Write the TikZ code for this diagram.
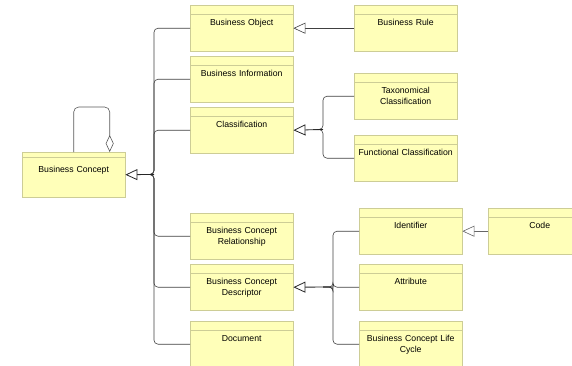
\documentclass[tikz,border=0pt]{standalone}
\usepackage{fontspec}
\setmainfont{Liberation Sans}
\usetikzlibrary{arrows.meta}

\definecolor{umlfill}{RGB}{255,255,185}
\definecolor{umlline}{RGB}{205,205,150}

\begin{document}
\begin{tikzpicture}[x=1pt, y=-1pt,
    umlbox/.style={draw=umlline, fill=umlfill, anchor=north west, inner sep=0pt,
      text width=103pt, align=center, text height=20pt, text depth=26pt,
      font=\fontsize{8.7}{11}\selectfont},
    gen/.style={-{Triangle[open, length=12pt, width=11pt, fill=white]}, draw=black!85, line width=0.8pt},
    tree/.style={draw=black!75, line width=0.6pt, rounded corners=4pt}]
  \useasboundingbox (0,0) rectangle (572,365);

  \node[umlbox, text depth=25pt] (concept) at (22,152) {Business Concept};
  \node[umlbox] (object) at (190,5) {Business Object};
  \node[umlbox] (info) at (190,56) {Business Information};
  \node[umlbox] (classif) at (190,107) {Classification};
  \node[umlbox] (rel) at (190,213) {Business Concept\\Relationship};
  \node[umlbox] (desc) at (190,264) {Business Concept\\Descriptor};
  \node[umlbox] (doc) at (190,321) {Document};
  \node[umlbox] (rule) at (354,5) {Business Rule};
  \node[umlbox] (taxo) at (354,73) {Taxonomical\\Classification};
  \node[umlbox] (func) at (354,135) {Functional Classification};
  \node[umlbox] (ident) at (359,208) {Identifier};
  \node[umlbox] (attr) at (359,264) {Attribute};
  \node[umlbox] (life) at (359,321) {Business Concept Life\\Cycle};
  \node[umlbox] (code) at (488,208) {Code};

  % top strips
  \draw[umlline] ([yshift=-5pt]concept.north west) -- ([yshift=-5pt]concept.north east);
  \foreach \n in {object,info,classif,rel,desc,doc,rule,taxo,func,ident,attr,life,code}
    \draw[umlline] ([yshift=-9pt]\n.north west) -- ([yshift=-9pt]\n.north east);

  % hubs
  \coordinate (hubA) at (154,174.5);
  \coordinate (hubAin) at (144,174.5);
  \coordinate (hubB) at (323,129.5);
  \coordinate (hubBin) at (313,129.5);
  \coordinate (hubC) at (333,287);
  \coordinate (hubCin) at (323,287);

  \foreach \n in {object,info,classif,rel,desc,doc}
    \draw[tree] (hubAin) -- (hubA) |- (\n.west);
  \draw[gen] (hubA) -- (concept.east);

  \foreach \n in {taxo,func}
    \draw[tree] (hubBin) -- (hubB) |- (\n.west);
  \draw[gen] (hubB) -- (classif.east);

  \foreach \n in {ident,attr,life}
    \draw[tree] (hubCin) -- (hubC) |- (\n.west);
  \draw[gen] (hubC) -- (desc.east);

  \draw[gen, draw=black!75, line width=0.6pt] (rule.west) -- (object.east);
  \draw[gen, draw=black!60, line width=0.6pt] (code.west) -- (ident.east);

  % self association
  \coordinate (loop) at (91,107);
  \draw[draw=black!65, line width=0.6pt, rounded corners=5pt,
    -{Diamond[open, length=17pt, width=8pt, fill=white]}]
    (concept.north) |- (loop) -| ([xshift=36pt]concept.north);
\end{tikzpicture}
\end{document}
